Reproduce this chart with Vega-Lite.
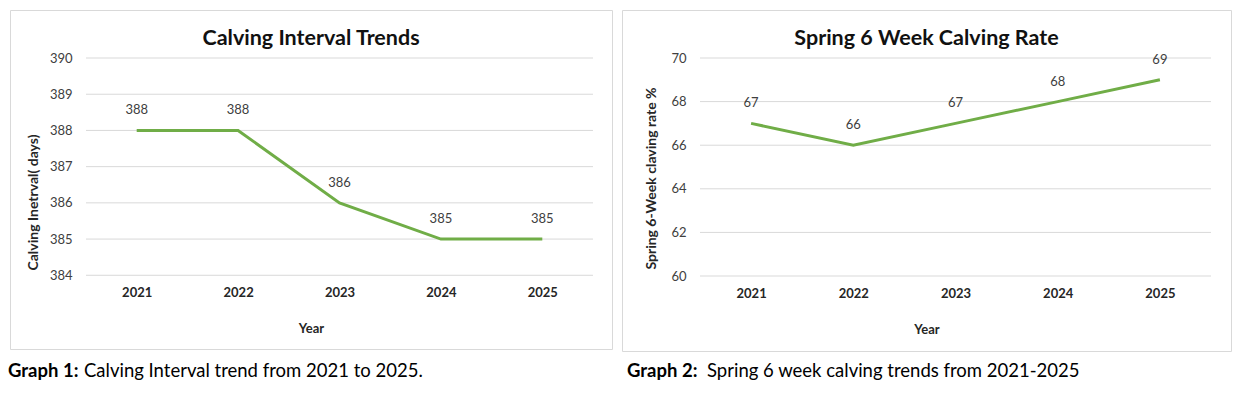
{
  "$schema": "https://vega.github.io/schema/vega-lite/v6.json",
  "background": "white",
  "padding": {"left": 7, "top": 9, "right": 0, "bottom": 0},
  "spacing": 8,
  "config": {
    "font": "Lato",
    "view": {"stroke": "#d9d9d9", "strokeWidth": 1},
    "axis": {"domain": false, "ticks": false, "grid": false, "labelFontSize": 13, "titleFontSize": 13, "titleFontWeight": "bold", "titleColor": "#262626"}
  },
  "hconcat": [
    {
      "width": 602,
      "height": 339,
      "title": {"text": "Calving Interval Trends", "fontSize": 21.5, "fontWeight": "bold", "color": "#111111", "anchor": "middle", "frame": "group", "offset": -39},
      "layer": [
        {
          "data": {"values": [{"Interval": 384}, {"Interval": 385}, {"Interval": 386}, {"Interval": 387}, {"Interval": 388}, {"Interval": 389}, {"Interval": 390}]},
          "mark": {"type": "rule", "color": "#d9d9d9", "strokeWidth": 1},
          "encoding": {
            "y": {"field": "Interval", "type": "quantitative"},
            "x": {"datum": 2020.5, "type": "quantitative"},
            "x2": {"datum": 2025.5}
          }
        },
        {
          "data": {"values": [
            {"Year": 2021, "Interval": 388},
            {"Year": 2022, "Interval": 388},
            {"Year": 2023, "Interval": 386},
            {"Year": 2024, "Interval": 385},
            {"Year": 2025, "Interval": 385}
          ]},
          "layer": [
            {
              "mark": {"type": "line", "color": "#70ad47", "strokeWidth": 3},
              "encoding": {
                "x": {"field": "Year", "type": "quantitative",
                  "scale": {"domain": [2019.7505, 2025.6874], "nice": false, "zero": false},
                  "axis": {"title": "Year", "values": [2021, 2022, 2023, 2024, 2025], "format": "d", "offset": -74, "labelPadding": 11, "labelFontWeight": "bold", "labelColor": "#262626", "titlePadding": 23, "labelFlush": false}},
                "y": {"field": "Interval", "type": "quantitative",
                  "scale": {"domain": [381.964, 391.326], "nice": false, "zero": false},
                  "axis": {"title": "Calving Inetrval( days)", "titleFontSize": 14, "values": [384, 385, 386, 387, 388, 389, 390], "offset": -76, "labelPadding": 14, "labelColor": "#404040", "titlePadding": 9, "titleY": 192}}
              }
            },
            {
              "mark": {"type": "text", "fontSize": 13, "color": "#404040", "baseline": "middle", "dy": -20},
              "encoding": {
                "x": {"field": "Year", "type": "quantitative"},
                "y": {"field": "Interval", "type": "quantitative"},
                "text": {"field": "Interval", "type": "quantitative"}
              }
            }
          ]
        },
        {
          "data": {"values": [{"label": "Graph 1:", "caption": "Calving Interval trend from 2021 to 2025."}]},
          "layer": [
            {
              "mark": {"type": "text", "align": "left", "baseline": "middle", "fontSize": 18.5, "fontWeight": "bold", "color": "#000000", "dx": -2},
              "encoding": {
                "x": {"datum": 2019.7505, "type": "quantitative"},
                "y": {"datum": 381.356, "type": "quantitative"},
                "text": {"field": "label", "type": "nominal"}
              }
            },
            {
              "mark": {"type": "text", "align": "left", "baseline": "middle", "fontSize": 18.5, "color": "#000000", "dx": 74},
              "encoding": {
                "x": {"datum": 2019.7505, "type": "quantitative"},
                "y": {"datum": 381.356, "type": "quantitative"},
                "text": {"field": "caption", "type": "nominal"}
              }
            }
          ]
        }
      ]
    },
    {
      "width": 609,
      "height": 341,
      "title": {"text": "Spring 6 Week Calving Rate", "fontSize": 21.5, "fontWeight": "bold", "color": "#111111", "anchor": "middle", "frame": "group", "offset": -39},
      "layer": [
        {
          "data": {"values": [{"Rate": 60}, {"Rate": 62}, {"Rate": 64}, {"Rate": 66}, {"Rate": 68}, {"Rate": 70}]},
          "mark": {"type": "rule", "color": "#d9d9d9", "strokeWidth": 1},
          "encoding": {
            "y": {"field": "Rate", "type": "quantitative"},
            "x": {"datum": 2020.5, "type": "quantitative"},
            "x2": {"datum": 2025.5}
          }
        },
        {
          "data": {"values": [
            {"Year": 2021, "Rate": 67},
            {"Year": 2022, "Rate": 66},
            {"Year": 2023, "Rate": 67},
            {"Year": 2024, "Rate": 68},
            {"Year": 2025, "Rate": 69}
          ]},
          "layer": [
            {
              "mark": {"type": "line", "color": "#70ad47", "strokeWidth": 3},
              "encoding": {
                "x": {"field": "Year", "type": "quantitative",
                  "scale": {"domain": [2019.7368, 2025.6957], "nice": false, "zero": false},
                  "axis": {"title": "Year", "values": [2021, 2022, 2023, 2024, 2025], "format": "d", "offset": -75, "labelPadding": 11, "labelFontWeight": "bold", "labelColor": "#262626", "titlePadding": 23, "labelFlush": false}},
                "y": {"field": "Rate", "type": "quantitative",
                  "scale": {"domain": [56.56, 72.202], "nice": false, "zero": false},
                  "axis": {"title": "Spring 6-Week claving rate %", "titleFontSize": 14, "values": [60, 62, 64, 66, 68, 70], "offset": -78, "labelPadding": 14, "labelColor": "#404040", "titlePadding": 12, "titleY": 168}}
              }
            },
            {
              "mark": {"type": "text", "fontSize": 13, "color": "#404040", "baseline": "middle", "dy": -20},
              "encoding": {
                "x": {"field": "Year", "type": "quantitative"},
                "y": {"field": "Rate", "type": "quantitative"},
                "text": {"field": "Rate", "type": "quantitative"}
              }
            }
          ]
        },
        {
          "data": {"values": [{"label": "Graph 2:", "caption": "Spring 6 week calving trends from 2021-2025"}]},
          "layer": [
            {
              "mark": {"type": "text", "align": "left", "baseline": "middle", "fontSize": 18.5, "fontWeight": "bold", "color": "#000000"},
              "encoding": {
                "x": {"datum": 2019.786, "type": "quantitative"},
                "y": {"datum": 55.64, "type": "quantitative"},
                "text": {"field": "label", "type": "nominal"}
              }
            },
            {
              "mark": {"type": "text", "align": "left", "baseline": "middle", "fontSize": 18.5, "color": "#000000", "dx": 80},
              "encoding": {
                "x": {"datum": 2019.786, "type": "quantitative"},
                "y": {"datum": 55.64, "type": "quantitative"},
                "text": {"field": "caption", "type": "nominal"}
              }
            }
          ]
        }
      ]
    }
  ]
}
